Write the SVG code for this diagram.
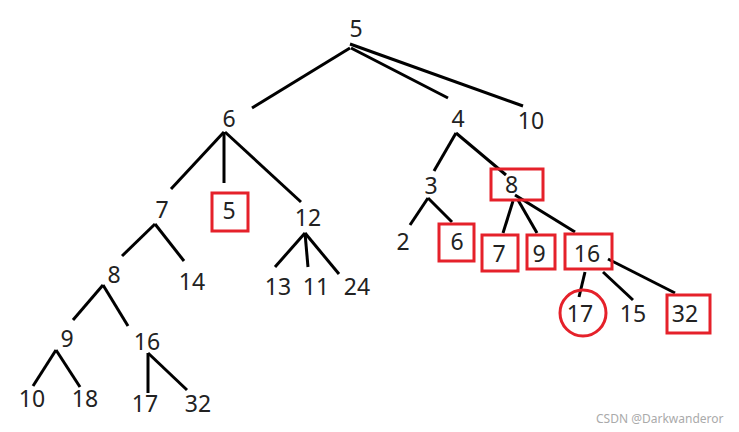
<svg xmlns="http://www.w3.org/2000/svg" width="739" height="432" viewBox="0 0 739 432">
<style>
text{font-family:"Noto Sans","Liberation Sans",sans-serif;font-size:23px;fill:#222;text-anchor:middle}
.e line{stroke:#000;stroke-width:3;stroke-linecap:butt}
.m{fill:none;stroke:#e5212a;stroke-width:3}
.wm{font-size:12px;fill:#aaa;text-anchor:start}
</style>
<rect width="739" height="432" fill="#fff"/>
<g id="edges" class="e">
<line x1="350" y1="48" x2="252" y2="108"/>
<line x1="351" y1="48" x2="448" y2="98"/>
<line x1="350" y1="44" x2="523" y2="106"/>
<line x1="224" y1="132" x2="171" y2="189"/>
<line x1="224" y1="132" x2="224" y2="183"/>
<line x1="225" y1="132" x2="301" y2="202"/>
<line x1="155" y1="224" x2="122" y2="256"/>
<line x1="155" y1="224" x2="184" y2="261"/>
<line x1="305" y1="233" x2="275" y2="267"/>
<line x1="305" y1="233" x2="308" y2="267"/>
<line x1="305" y1="233" x2="339" y2="274"/>
<line x1="103" y1="285" x2="73" y2="320"/>
<line x1="103" y1="285" x2="128" y2="326"/>
<line x1="56" y1="350" x2="33" y2="386"/>
<line x1="56" y1="350" x2="80" y2="387"/>
<line x1="148" y1="353" x2="148" y2="393"/>
<line x1="148" y1="353" x2="187" y2="390"/>
<line x1="456" y1="133" x2="434" y2="171"/>
<line x1="456" y1="133" x2="506" y2="175"/>
<line x1="428" y1="198" x2="410" y2="225"/>
<line x1="428" y1="198" x2="452" y2="222"/>
<line x1="513" y1="201" x2="503" y2="233"/>
<line x1="518" y1="200" x2="537" y2="233"/>
<line x1="515" y1="195" x2="575" y2="232"/>
<line x1="585" y1="272" x2="579" y2="297"/>
<line x1="603" y1="272" x2="633" y2="300"/>
<line x1="608" y1="259" x2="675" y2="293"/>
</g>
<g id="n5"><text x="356" y="37">5</text></g>
<g id="n6"><text x="229" y="127">6</text></g>
<g id="n4"><text x="458" y="127">4</text></g>
<g id="n10a"><text x="531" y="129">10</text></g>
<g id="n7"><text x="162" y="218">7</text></g>
<g id="n5b"><rect class="m" x="212" y="193" width="36" height="38"/><text x="229" y="219">5</text></g>
<g id="n12"><text x="308" y="226">12</text></g>
<g id="n8a"><text x="114" y="283">8</text></g>
<g id="n14"><text x="192" y="290">14</text></g>
<g id="n13"><text x="278" y="295">13</text></g>
<g id="n11"><text x="316" y="295">11</text></g>
<g id="n24"><text x="357" y="295">24</text></g>
<g id="n9a"><text x="67" y="347">9</text></g>
<g id="n16a"><text x="147" y="350">16</text></g>
<g id="n10b"><text x="32" y="407">10</text></g>
<g id="n18"><text x="85" y="407">18</text></g>
<g id="n17a"><text x="145" y="412">17</text></g>
<g id="n32a"><text x="198" y="412">32</text></g>
<g id="n3"><text x="431" y="194">3</text></g>
<g id="n8b"><rect class="m" x="491" y="169" width="52" height="31"/><text x="511.5" y="193">8</text></g>
<g id="n2"><text x="403" y="250">2</text></g>
<g id="n6b"><rect class="m" x="439" y="224" width="35" height="37"/><text x="457" y="250">6</text></g>
<g id="n7b"><rect class="m" x="482" y="235" width="36" height="36"/><text x="499" y="262">7</text></g>
<g id="n9b"><rect class="m" x="527" y="235" width="28" height="34"/><text x="539" y="262">9</text></g>
<g id="n16b"><rect class="m" x="565" y="234" width="47" height="35"/><text x="587" y="262">16</text></g>
<g id="n17b"><circle class="m" cx="583" cy="313" r="23"/><text x="580" y="322">17</text></g>
<g id="n15"><text x="633" y="322">15</text></g>
<g id="n32b"><rect class="m" x="667" y="295" width="43" height="38"/><text x="685" y="322">32</text></g>
<text class="wm" x="596" y="423">CSDN @Darkwanderor</text>
</svg>
